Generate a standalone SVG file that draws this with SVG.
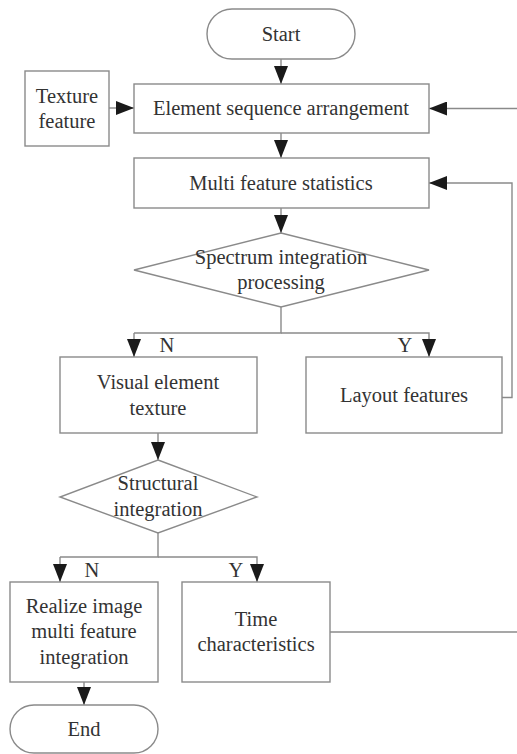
<svg xmlns="http://www.w3.org/2000/svg" width="517" height="754" viewBox="0 0 517 754">
<defs>
<marker id="ah" markerUnits="userSpaceOnUse" markerWidth="18" markerHeight="14" refX="18" refY="7" orient="auto">
<path d="M0,0 L18,7 L0,14 Z" fill="#1a1a1a"/>
</marker>
<style>
.box{fill:#fff;stroke:#8a8a8a;stroke-width:1.4}
.ln{fill:none;stroke:#8a8a8a;stroke-width:1.4}
.arr{fill:none;stroke:#8a8a8a;stroke-width:1.4;marker-end:url(#ah)}
text{font-family:"Liberation Serif","Times New Roman",serif;font-size:20.5px;fill:#333;text-anchor:middle}
</style>
</defs>
<rect width="517" height="754" fill="#fff"/>
<g id="connectors">
<line class="arr" x1="281" y1="59" x2="281" y2="84"/>
<line class="arr" x1="109" y1="108" x2="134" y2="108"/>
<line class="arr" x1="517" y1="108.5" x2="429" y2="108.5"/>
<line class="arr" x1="281" y1="133" x2="281" y2="158"/>
<polyline class="arr" points="502,397.5 512,397.5 512,183 429,183"/>
<line class="arr" x1="281" y1="208" x2="281" y2="233"/>
<polyline class="ln" points="281,307 281,333 134,333"/>
<line class="arr" x1="134" y1="333" x2="134" y2="357"/>
<polyline class="arr" points="281,333 429,333 429,357"/>
<line class="arr" x1="158" y1="433" x2="158" y2="460"/>
<polyline class="ln" points="158,533 158,557 60,557"/>
<line class="arr" x1="60" y1="557" x2="60" y2="582"/>
<polyline class="arr" points="158,557 257,557 257,582"/>
<line class="arr" x1="84" y1="682" x2="84" y2="705"/>
<line class="ln" x1="330" y1="632" x2="517" y2="632"/>
<text x="167" y="352">N</text>
<text x="405" y="352">Y</text>
<text x="92" y="577">N</text>
<text x="236" y="577">Y</text>
</g>
<g id="start"><rect class="box" x="207" y="9" width="148" height="50" rx="25"/><text x="281" y="41">Start</text></g>
<g id="texture"><rect class="box" x="25" y="71" width="84" height="75"/><text x="67" y="103">Texture</text><text x="67" y="128">feature</text></g>
<g id="element"><rect class="box" x="134" y="84" width="295" height="49"/><text x="281" y="115">Element sequence arrangement</text></g>
<g id="multi"><rect class="box" x="134" y="158" width="295" height="50"/><text x="281" y="190">Multi feature statistics</text></g>
<g id="spectrum"><polygon class="box" points="281,233 429,270 281,307 134,270"/><text x="281" y="264">Spectrum integration</text><text x="281" y="289">processing</text></g>
<g id="visual"><rect class="box" x="60" y="357" width="197" height="76"/><text x="158" y="389">Visual element</text><text x="158" y="415">texture</text></g>
<g id="layout"><rect class="box" x="306" y="357" width="196" height="76"/><text x="404" y="402">Layout features</text></g>
<g id="structural"><polygon class="box" points="158,460 257,497 158,533 60,497"/><text x="158" y="490">Structural</text><text x="158" y="516">integration</text></g>
<g id="realize"><rect class="box" x="10" y="582" width="148" height="100"/><text x="84" y="613">Realize image</text><text x="84" y="638">multi feature</text><text x="84" y="664">integration</text></g>
<g id="time"><rect class="box" x="182" y="582" width="148" height="100"/><text x="256" y="626">Time</text><text x="256" y="651">characteristics</text></g>
<g id="end"><rect class="box" x="10" y="705" width="148" height="48" rx="24"/><text x="84" y="736">End</text></g>
</svg>
